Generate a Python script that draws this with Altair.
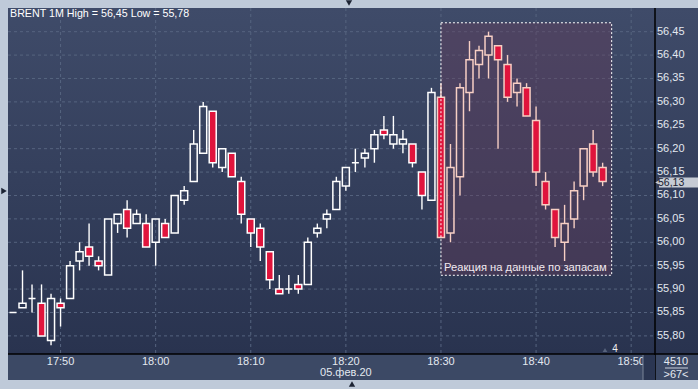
import altair as alt
import pandas as pd

# ---------------- data ----------------
start_label = "17:45"          # first (partly hidden) candle, one candle per minute
opens = [55.85, 55.86, 55.88, 55.87, 55.79, 55.87, 55.88, 55.96, 55.99, 55.96,
         55.93, 56.04, 56.07, 56.04, 56.04, 56.00, 56.04, 56.02, 56.09, 56.13,
         56.19, 56.28, 56.16, 56.19, 56.13, 56.05, 56.03, 55.98, 55.90, 55.90,
         55.91, 55.91, 56.02, 56.05, 56.07, 56.12, 56.17, 56.18, 56.20, 56.24,
         56.21, 56.21, 56.21, 56.15, 56.09, 56.31, 56.02, 56.14, 56.32, 56.38,
         56.40, 56.42, 56.38, 56.32, 56.33, 56.26, 56.13, 56.07, 56.00, 56.05,
         56.12, 56.21, 56.16]
highs = [55.85, 55.94, 55.91, 55.91, 55.89, 55.88, 55.96, 56.00, 56.04, 55.97,
         56.05, 56.06, 56.09, 56.07, 56.06, 56.05, 56.05, 56.10, 56.12, 56.24,
         56.30, 56.28, 56.20, 56.19, 56.14, 56.05, 56.04, 55.98, 55.93, 55.93,
         55.93, 56.01, 56.04, 56.07, 56.14, 56.16, 56.20, 56.20, 56.24, 56.27,
         56.27, 56.24, 56.21, 56.15, 56.33, 56.34, 56.21, 56.34, 56.43, 56.42,
         56.45, 56.42, 56.40, 56.35, 56.34, 56.29, 56.15, 56.07, 56.08, 56.13,
         56.20, 56.24, 56.17]
lows = [55.85, 55.86, 55.85, 55.80, 55.78, 55.82, 55.88, 55.94, 55.95, 55.94,
        55.93, 56.02, 56.01, 56.04, 55.99, 55.95, 56.01, 56.02, 56.08, 56.13,
        56.19, 56.16, 56.15, 56.14, 56.04, 55.99, 55.96, 55.90, 55.89, 55.89,
        55.89, 55.91, 56.01, 56.03, 56.07, 56.11, 56.15, 56.16, 56.17, 56.22,
        56.20, 56.19, 56.16, 56.07, 56.09, 56.01, 56.00, 56.10, 56.28, 56.35,
        56.35, 56.20, 56.30, 56.29, 56.27, 56.12, 56.07, 55.99, 55.96, 56.03,
        56.09, 56.14, 56.12]
closes = [55.85, 55.87, 55.88, 55.80, 55.88, 55.86, 55.95, 55.98, 55.97, 55.95,
          56.05, 56.06, 56.03, 56.06, 55.99, 56.05, 56.01, 56.10, 56.11, 56.21,
          56.29, 56.17, 56.20, 56.14, 56.06, 56.02, 55.99, 55.92, 55.89, 55.90,
          55.90, 56.00, 56.03, 56.06, 56.13, 56.16, 56.17, 56.19, 56.23, 56.23,
          56.23, 56.22, 56.17, 56.10, 56.32, 56.01, 56.16, 56.33, 56.39, 56.41,
          56.44, 56.39, 56.31, 56.34, 56.27, 56.15, 56.08, 56.01, 56.04, 56.11,
          56.20, 56.15, 56.13]

time_labels = ["17:50", "18:00", "18:10", "18:20", "18:30", "18:40", "18:50"]
price_ticks = [55.80, 55.85, 55.90, 55.95, 56.00, 56.05, 56.10, 56.15,
               56.20, 56.25, 56.30, 56.35, 56.40, 56.45]
date_label = "05.фев.20"
title_text = "BRENT 1M High = 56,45 Low = 55,78"
last_price = 56.13
annot_text = "Реакция на данные по запасам"
annot_from, annot_to = "18:30", "18:47:57"
annot_low, annot_high = 55.9295, 56.469
volume_text = "4510"
count_text = ">67<"
marker_text = "4"

# ---------------- helpers ----------------
def minutes(lbl):
    parts = [int(p) for p in lbl.split(":")]
    mm = parts[0] * 60 + parts[1] + (parts[2] / 60 if len(parts) > 2 else 0)
    return mm - (17 * 60 + 50)

m0 = minutes(start_label)
df = pd.DataFrame({"o": opens, "h": highs, "l": lows, "c": closes})
df["m"] = [m0 + i for i in range(len(df))]
df["top"] = df[["o", "c"]].max(axis=1)
df["bot"] = df[["o", "c"]].min(axis=1)
df["dir"] = ["down" if c < o else "up" for o, c in zip(df.o, df.c)]
box_x0, box_x1 = minutes(annot_from), minutes(annot_to)
df["zone"] = ["in" if m >= box_x0 else "out" for m in df.m]

ticks_df = pd.DataFrame({"t": [minutes(t) for t in time_labels], "lab": time_labels})
price_df = pd.DataFrame({"p": price_ticks,
                         "lab": [f"{p:.2f}".replace(".", ",") for p in price_ticks]})
box_df = pd.DataFrame({"x0": [box_x0], "x1": [box_x1], "y0": [annot_low], "y1": [annot_high],
                       "txt": [annot_text]})
last_df = pd.DataFrame({"p": [last_price], "lab": [f"{last_price:.2f}".replace(".", ",")]})
date_df = pd.DataFrame({"t": [minutes("18:20")], "lab": [date_label]})
one = pd.DataFrame({"a": [0]})

# ---------------- layout ----------------
W, H = 647, 346
FONT = "Liberation Sans"
RED = "#e0143c"
xs = alt.Scale(domain=[-5.0, 61.98], nice=False, zero=False)
ys = alt.Scale(domain=[55.7613, 56.5006], nice=False, zero=False)
X = lambda f: alt.X(f, type="quantitative", scale=xs, axis=None)
Y = lambda f: alt.Y(f, type="quantitative", scale=ys, axis=None)
stroke_enc = alt.Stroke("zone:N", scale=alt.Scale(domain=["out", "in"], range=["#ffffff", "#f7cfc4"]), legend=None)
fill_enc = alt.Fill("dir:N", scale=alt.Scale(domain=["up", "down"], range=["transparent", RED]), legend=None)

grad = alt.LinearGradient(gradient="linear",
                          stops=[alt.GradientStop(color="#3f4b69", offset=0),
                                 alt.GradientStop(color="#29334f", offset=1)],
                          x1=0, x2=0, y1=0, y2=1)

base1 = alt.Chart(one)
panel = base1.mark_rect(color="#3c4965").encode(
    x=alt.value(0), x2=alt.value(690), y=alt.value(0), y2=alt.value(372))
plotbg = base1.mark_rect(color=grad).encode(
    x=alt.value(0), x2=alt.value(690), y=alt.value(0), y2=alt.value(H))

hgrid = alt.Chart(price_df).mark_rule(color="#56647f", strokeDash=[3, 3], strokeWidth=1).encode(
    y=Y("p"), x=alt.value(0), x2=alt.value(W))
vgrid = alt.Chart(ticks_df).mark_rule(color="#56647f", strokeDash=[3, 3], strokeWidth=1).encode(
    x=X("t"), y=alt.value(0), y2=alt.value(H))

box_fill = alt.Chart(box_df).mark_rect(color="#6a3a58", opacity=0.36).encode(
    x=X("x0"), x2="x1", y=Y("y0"), y2="y1")

cb = alt.Chart(df)
wick_up = cb.mark_rule(strokeWidth=1.4, clip=True).encode(x=X("m"), y=Y("h"), y2="top", stroke=stroke_enc)
wick_dn = cb.mark_rule(strokeWidth=1.4, clip=True).encode(x=X("m"), y=Y("bot"), y2="l", stroke=stroke_enc)
bodies = cb.mark_bar(size=7, strokeWidth=1.5, clip=True).encode(
    x=X("m"), y=Y("top"), y2="bot", fill=fill_enc, stroke=stroke_enc)

box_line = alt.Chart(box_df).mark_rect(fill="transparent", stroke="#ffffff", strokeDash=[2, 2],
                                        strokeWidth=1).encode(x=X("x0"), x2="x1", y=Y("y0"), y2="y1")
box_txt = alt.Chart(box_df).mark_text(font=FONT, fontSize=11.2, color="#f2e9f0", align="left",
                                       baseline="alphabetic", dx=3, dy=-4).encode(
    x=X("x0"), y=Y("y0"), text="txt:N")

vline = base1.mark_rule(color="#000000", strokeWidth=1.5).encode(
    x=alt.value(W), y=alt.value(0), y2=alt.value(372))
hline = base1.mark_rule(color="#000000", strokeWidth=1.5).encode(
    x=alt.value(0), x2=alt.value(690), y=alt.value(H))

ylabels = alt.Chart(price_df).mark_text(font=FONT, fontSize=11, color="#e3e8f0", align="left",
                                        baseline="middle").encode(
    x=alt.value(649), y=Y("p"), text="lab:N")
xlabels = alt.Chart(ticks_df).mark_text(font=FONT, fontSize=11, color="#e3e8f0", align="center",
                                        baseline="middle").encode(
    x=X("t"), y=alt.value(354), text="lab:N")
dlabel = alt.Chart(date_df).mark_text(font=FONT, fontSize=11, color="#e3e8f0", align="center",
                                      baseline="middle").encode(
    x=X("t"), y=alt.value(365), text="lab:N")

scroll = base1.mark_rect(color="#2b3652").encode(
    x=alt.value(635), x2=alt.value(W), y=alt.value(H + 1), y2=alt.value(372))
scroll_edge = base1.mark_rule(color="#7b8598", strokeWidth=1).encode(
    x=alt.value(635), y=alt.value(H + 1), y2=alt.value(372))

last_box = alt.Chart(last_df).mark_rect(color="#c6cbd4", yOffset=-4, y2Offset=6).encode(
    x=alt.value(651), x2=alt.value(690), y=Y("p"), y2="p")
last_arrow = alt.Chart(last_df).mark_point(shape="triangle-left", filled=True, color="#c6cbd4",
                                           size=40, opacity=1).encode(x=alt.value(650), y=Y("p"), yOffset=alt.value(1))
last_txt = alt.Chart(last_df).mark_text(font=FONT, fontSize=10.5, color="#1b2130", align="left",
                                        baseline="middle", dy=1.5).encode(
    x=alt.value(650), y=Y("p"), text="lab:N")

info_df = pd.DataFrame({"lab": [volume_text, count_text], "yy": [353.5, 366.5]})
info = alt.Chart(info_df).mark_text(font=FONT, fontSize=11, color="#e3e8f0", align="center",
                                    baseline="middle").encode(
    x=alt.value(668), y=alt.Y("yy:Q", scale=None), text="lab:N")
info_line = base1.mark_rule(color="#c8d0dc", strokeWidth=1).encode(
    x=alt.value(657), x2=alt.value(680), y=alt.value(360))

mk_df = pd.DataFrame({"lab": [marker_text]})
mk = alt.Chart(mk_df).mark_text(font=FONT, fontSize=10, color="#f0f0f0", align="center",
                                baseline="middle").encode(x=alt.value(607), y=alt.value(341), text="lab:N")
mk_tri = base1.mark_point(shape="triangle-up", filled=True, color="#56627c", size=22, opacity=1).encode(
    x=alt.value(597), y=alt.value(342))

title_df = pd.DataFrame({"lab": [title_text]})
title = alt.Chart(title_df).mark_text(font=FONT, fontSize=10.7, color="#ffffff", align="left",
                                      baseline="middle").encode(x=alt.value(2), y=alt.value(6), text="lab:N")

tri_df = pd.DataFrame({"px": [341, 344, -4], "py": [-5, 376, 183],
                       "sh": ["triangle-down", "triangle-up", "triangle-right"]})
tris = alt.Chart(tri_df).mark_point(filled=True, color="#1c2333", size=40, opacity=1).encode(
    x=alt.X("px:Q", scale=None), y=alt.Y("py:Q", scale=None),
    shape=alt.Shape("sh:N", scale=None))

chart = alt.layer(
    panel, plotbg, hgrid, vgrid, box_fill, wick_up, wick_dn, bodies, box_line, box_txt,
    vline, hline, ylabels, xlabels, dlabel, scroll, scroll_edge,
    last_box, last_arrow, last_txt, info, info_line, mk, mk_tri, title, tris
).properties(
    width=W, height=H, autosize="none", background="#bfcad9",
    padding={"left": 8, "top": 8, "right": 43, "bottom": 35}
).configure_view(strokeWidth=0)

chart.save("out.html", embed_options={"renderer": "svg", "actions": False})
